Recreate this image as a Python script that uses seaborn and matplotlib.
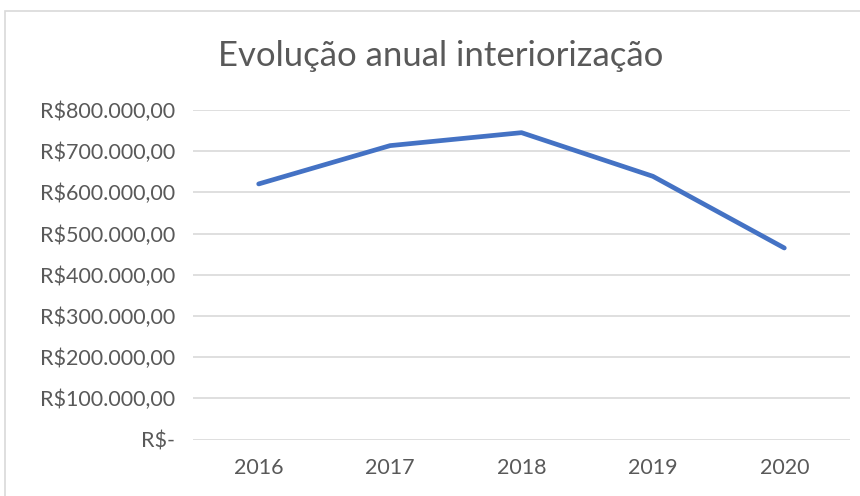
import matplotlib
matplotlib.use("Agg")
import matplotlib.pyplot as plt
import seaborn as sns
import pandas as pd
from matplotlib.patches import Rectangle
from matplotlib.ticker import FuncFormatter

# %% Data
anos = ["2016", "2017", "2018", "2019", "2020"]
valores = [620500, 713500, 745000, 639000, 465000]
y_ticks = [0, 100000, 200000, 300000, 400000, 500000, 600000, 700000, 800000]

df = pd.DataFrame({"ano": anos, "valor": valores})

# %% Style
sns.set_style("white")
plt.rcParams["font.family"] = ["Lato", "DejaVu Sans"]
text_color = "#595959"


def reais(v, pos):
    if v == 0:
        return "R$-"
    s = f"{v:,.2f}"
    s = s.replace(",", "X").replace(".", ",").replace("X", ".")
    return "R$" + s


# %% Plot
fig = plt.figure(figsize=(8.6, 4.96), dpi=100)
ax = fig.add_axes([193 / 860, 1 - 439.5 / 496, (850 - 193) / 860, (439.5 - 110) / 496])

sns.lineplot(data=df, x="ano", y="valor", color="#4472C4", linewidth=3.4,
             solid_capstyle="round", solid_joinstyle="round", ax=ax, sort=False)

ax.set_xlim(-0.5, 4.5)
ax.set_ylim(0, 800000)
ax.set_yticks(y_ticks)
ax.yaxis.set_major_formatter(FuncFormatter(reais))
ax.grid(axis="y", color="#D9D9D9", linewidth=1.2)
ax.set_axisbelow(True)
for s in ax.spines.values():
    s.set_visible(False)
ax.tick_params(axis="both", length=0, labelsize=15.5, colors=text_color)
ax.tick_params(axis="y", pad=13)
ax.tick_params(axis="x", pad=13)
ax.set_xlabel("")
ax.set_ylabel("")

fig.text(441 / 860, 1 - 56 / 496, "Evolução anual interiorização", ha="center", va="center",
         fontsize=25, color=text_color)

# chart border
fig.patches.append(Rectangle((5 / 860, -0.1), 1.1, 1 - 11 / 496 + 0.1, transform=fig.transFigure,
                             fill=False, edgecolor="#D9D9D9", linewidth=1.2))

fig.savefig("out.png", dpi=100)
